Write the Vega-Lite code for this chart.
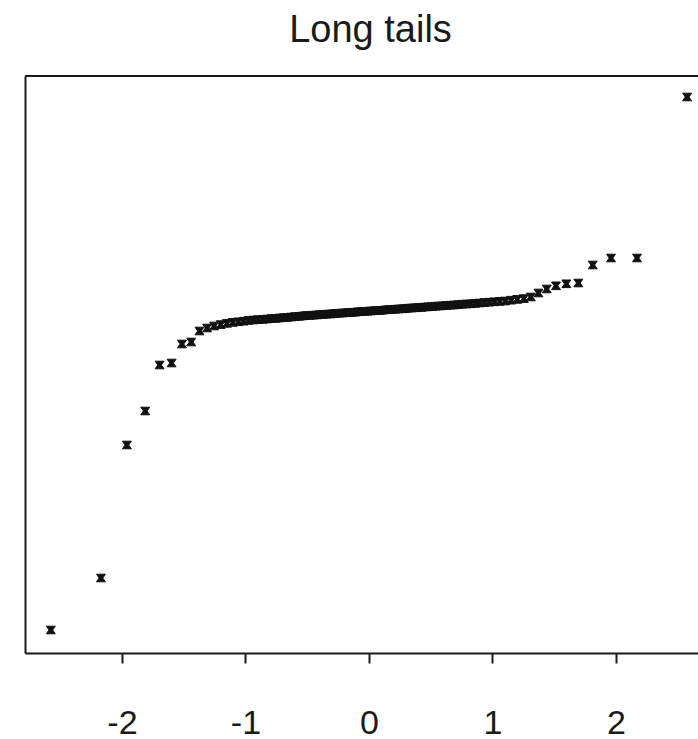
{
  "$schema": "https://vega.github.io/schema/vega-lite/v6.json",
  "autosize": {"type": "none"},
  "padding": {"left": 25, "top": 76, "right": 0, "bottom": 86},
  "width": 673,
  "height": 577,
  "background": "white",
  "title": {"text": "Long tails", "font": "Liberation Sans", "fontSize": 38, "fontWeight": "normal", "color": "#1a1a1a", "offset": 25, "dx": 9},
  "config": {"view": {"stroke": null}},
  "data": {"values": [
    {"theoretical": -2.5758, "sample": -7.975},
    {"theoretical": -2.1701, "sample": -6.675},
    {"theoretical": -1.9600, "sample": -3.35},
    {"theoretical": -1.8119, "sample": -2.5},
    {"theoretical": -1.6954, "sample": -1.35},
    {"theoretical": -1.5982, "sample": -1.3},
    {"theoretical": -1.5141, "sample": -0.825},
    {"theoretical": -1.4395, "sample": -0.775},
    {"theoretical": -1.3722, "sample": -0.5},
    {"theoretical": -1.3106, "sample": -0.425},
    {"theoretical": -1.2536, "sample": -0.375},
    {"theoretical": -1.2004, "sample": -0.34},
    {"theoretical": -1.1503, "sample": -0.31},
    {"theoretical": -1.1031, "sample": -0.285},
    {"theoretical": -1.0581, "sample": -0.27},
    {"theoretical": -1.0152, "sample": -0.255},
    {"theoretical": -0.9741, "sample": -0.235},
    {"theoretical": -0.9346, "sample": -0.225},
    {"theoretical": -0.8965, "sample": -0.215},
    {"theoretical": -0.8596, "sample": -0.21},
    {"theoretical": -0.8239, "sample": -0.2},
    {"theoretical": -0.7892, "sample": -0.19},
    {"theoretical": -0.7554, "sample": -0.185},
    {"theoretical": -0.7225, "sample": -0.175},
    {"theoretical": -0.6903, "sample": -0.165},
    {"theoretical": -0.6588, "sample": -0.16},
    {"theoretical": -0.6280, "sample": -0.15},
    {"theoretical": -0.5978, "sample": -0.14},
    {"theoretical": -0.5681, "sample": -0.135},
    {"theoretical": -0.5388, "sample": -0.125},
    {"theoretical": -0.5101, "sample": -0.115},
    {"theoretical": -0.4817, "sample": -0.11},
    {"theoretical": -0.4538, "sample": -0.105},
    {"theoretical": -0.4261, "sample": -0.1},
    {"theoretical": -0.3989, "sample": -0.09},
    {"theoretical": -0.3719, "sample": -0.085},
    {"theoretical": -0.3451, "sample": -0.08},
    {"theoretical": -0.3186, "sample": -0.075},
    {"theoretical": -0.2924, "sample": -0.07},
    {"theoretical": -0.2663, "sample": -0.06},
    {"theoretical": -0.2404, "sample": -0.055},
    {"theoretical": -0.2147, "sample": -0.05},
    {"theoretical": -0.1891, "sample": -0.045},
    {"theoretical": -0.1637, "sample": -0.04},
    {"theoretical": -0.1383, "sample": -0.035},
    {"theoretical": -0.1130, "sample": -0.03},
    {"theoretical": -0.0878, "sample": -0.02},
    {"theoretical": -0.0627, "sample": -0.015},
    {"theoretical": -0.0376, "sample": -0.01},
    {"theoretical": -0.0125, "sample": -0.005},
    {"theoretical": 0.0125, "sample": 0.0},
    {"theoretical": 0.0376, "sample": 0.005},
    {"theoretical": 0.0627, "sample": 0.01},
    {"theoretical": 0.0878, "sample": 0.015},
    {"theoretical": 0.1130, "sample": 0.02},
    {"theoretical": 0.1383, "sample": 0.03},
    {"theoretical": 0.1637, "sample": 0.035},
    {"theoretical": 0.1891, "sample": 0.04},
    {"theoretical": 0.2147, "sample": 0.045},
    {"theoretical": 0.2404, "sample": 0.05},
    {"theoretical": 0.2663, "sample": 0.055},
    {"theoretical": 0.2924, "sample": 0.06},
    {"theoretical": 0.3186, "sample": 0.07},
    {"theoretical": 0.3451, "sample": 0.075},
    {"theoretical": 0.3719, "sample": 0.08},
    {"theoretical": 0.3989, "sample": 0.085},
    {"theoretical": 0.4261, "sample": 0.09},
    {"theoretical": 0.4538, "sample": 0.1},
    {"theoretical": 0.4817, "sample": 0.105},
    {"theoretical": 0.5101, "sample": 0.11},
    {"theoretical": 0.5388, "sample": 0.12},
    {"theoretical": 0.5681, "sample": 0.125},
    {"theoretical": 0.5978, "sample": 0.13},
    {"theoretical": 0.6280, "sample": 0.14},
    {"theoretical": 0.6588, "sample": 0.145},
    {"theoretical": 0.6903, "sample": 0.15},
    {"theoretical": 0.7225, "sample": 0.16},
    {"theoretical": 0.7554, "sample": 0.17},
    {"theoretical": 0.7892, "sample": 0.175},
    {"theoretical": 0.8239, "sample": 0.18},
    {"theoretical": 0.8596, "sample": 0.19},
    {"theoretical": 0.8965, "sample": 0.2},
    {"theoretical": 0.9346, "sample": 0.21},
    {"theoretical": 0.9741, "sample": 0.22},
    {"theoretical": 1.0152, "sample": 0.23},
    {"theoretical": 1.0581, "sample": 0.24},
    {"theoretical": 1.1031, "sample": 0.25},
    {"theoretical": 1.1503, "sample": 0.27},
    {"theoretical": 1.2004, "sample": 0.29},
    {"theoretical": 1.2536, "sample": 0.31},
    {"theoretical": 1.3106, "sample": 0.35},
    {"theoretical": 1.3722, "sample": 0.45},
    {"theoretical": 1.4395, "sample": 0.55},
    {"theoretical": 1.5141, "sample": 0.63},
    {"theoretical": 1.5982, "sample": 0.68},
    {"theoretical": 1.6954, "sample": 0.7},
    {"theoretical": 1.8119, "sample": 1.15},
    {"theoretical": 1.9600, "sample": 1.325},
    {"theoretical": 2.1701, "sample": 1.325},
    {"theoretical": 2.5758, "sample": 5.35}
  ]},
  "layer": [
    {
      "mark": {"type": "rule", "color": "#1a1a1a", "strokeWidth": 2},
      "encoding": {"y": {"datum": 5.875}}
    },
    {
      "mark": {"type": "point", "shape": "M-1,-0.85H1L0.4,0L1,0.85H-1L-0.4,0Z", "filled": true, "color": "#111111", "stroke": "#111111", "strokeWidth": 1, "size": 80, "opacity": 1},
      "encoding": {
        "x": {
          "field": "theoretical", "type": "quantitative",
          "scale": {"domain": [-2.785, 2.664], "nice": false, "zero": false},
          "axis": {"title": null, "values": [-2, -1, 0, 1, 2], "labelExpr": "'' + datum.value", "grid": false, "domain": true, "domainColor": "#1a1a1a", "domainWidth": 2, "ticks": true, "tickColor": "#1a1a1a", "tickWidth": 2, "tickSize": 10, "labelFont": "Liberation Sans", "labelFontSize": 34, "labelColor": "#1a1a1a", "labelPadding": 43, "labelFlush": false, "labelOverlap": false}
        },
        "y": {
          "field": "sample", "type": "quantitative",
          "scale": {"domain": [-8.55, 5.875], "nice": false, "zero": false},
          "axis": {"title": null, "grid": false, "labels": false, "ticks": false, "domain": true, "domainColor": "#1a1a1a", "domainWidth": 2}
        }
      }
    }
  ]
}
